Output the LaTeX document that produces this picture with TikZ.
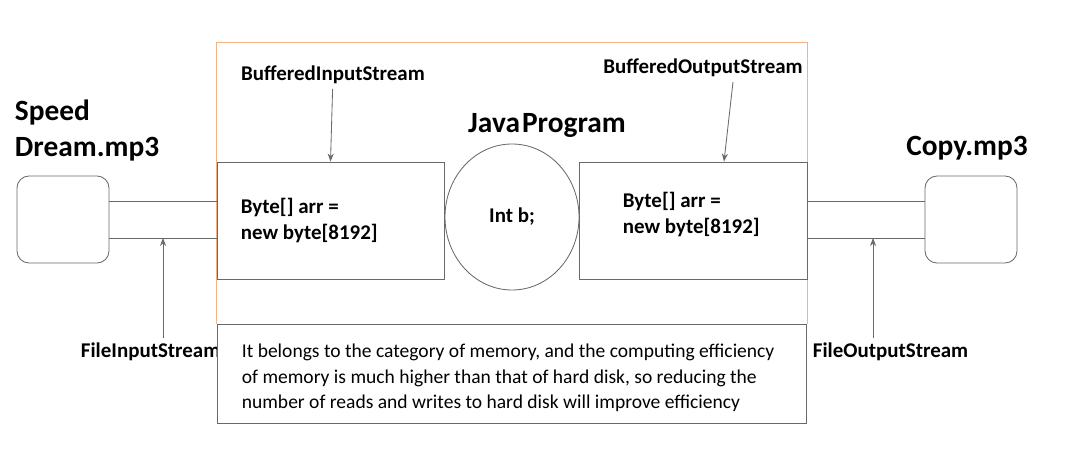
\documentclass[tikz,border=0pt]{standalone}
\usepackage{fontspec}
\setmainfont{Carlito}
\usepackage{xcolor}
\usetikzlibrary{shapes.geometric, positioning, arrows.meta, calc}
\definecolor{boxgray}{RGB}{105,105,105}
\definecolor{frameorange}{RGB}{244,177,131}

\begin{document}
\begin{tikzpicture}[>={Stealth[length=2mm, width=1.5mm]},
  line/.style={draw=boxgray, line width=0.6pt},
  filebox/.style={line, rectangle, rounded corners=0.3cm, minimum width=2.3cm, minimum height=2.175cm},
  bufbox/.style={line, rectangle, minimum height=2.925cm},
  lbl/.style={font=\bfseries\fontsize{14.9}{17.8}\selectfont},
  bigtitle/.style={font=\bfseries\fontsize{20.9}{25.6}\selectfont},
  codetxt/.style={lbl, align=left, inner sep=0pt}]

\useasboundingbox (0,0) rectangle (26.8,-11.3);

% Program frame
\draw[frameorange, line width=0.6pt] (5.4,-8.1) |- (20.175,-1.05) -- (20.175,-8.1);

% Files (left and right)
\node (lfile) [filebox] at (1.575,-5.4875) {};
\node (rfile) [filebox] at (24.275,-5.4875) {};
\node (speed) [bigtitle, align=left, anchor=west] at (0.25,-3.275) {Speed\\Dream.mp3};
\node (copy) [bigtitle] at (24.175,-3.7) {Copy.mp3};

% Buffers and program
\node (lbuf) [bufbox, minimum width=5.675cm] at (8.2625,-5.5125) {};
\node (rbuf) [bufbox, minimum width=5.7cm] at (17.325,-5.5125) {};
\node (prog) [line, ellipse, minimum width=3.35cm, minimum height=3.65cm, lbl] at (12.8,-5.425) {Int b;};
\node (ltxt) [codetxt, right=0.6cm of lbuf.west] {Byte[] arr =\\new byte[8192]};
\node (rtxt) [codetxt, right=1.1cm of rbuf.west, yshift=0.15cm] {Byte[] arr =\\new byte[8192]};
\node (java) [bigtitle] at (13.675,-3.125) {Java\kern1.5pt Program};
\node (bis) [lbl] at (8.325,-1.875) {BufferedInputStream};
\node (bos) [lbl] at (17.575,-1.7) {BufferedOutputStream};

% Streams
\node (fis) [lbl, anchor=west] at (1.9,-8.8) {FileInputStream};
\node (fos) [lbl, anchor=west] at (20.2,-8.8) {FileOutputStream};

% Note
\node (note) [line, fill=white, minimum width=14.725cm, minimum height=2.475cm] at (12.7875,-9.3375) {};
\node (notetxt) [below right=0.5125cm and 0.625cm of note.north west, anchor=north west, inner sep=0pt, align=left, font=\fontsize{13.9}{18.1}\selectfont]
  {It belongs to the category of memory, and the computing efficiency\\
   of memory is much higher than that of hard disk, so reducing the\\
   number of reads and writes to hard disk will improve efficiency};

% Pipes
\coordinate (lpt) at ($(lfile.east)+(0,0.4625)$);
\coordinate (lpb) at ($(lfile.east)+(0,-0.4625)$);
\coordinate (rpt) at ($(rfile.west)+(0,0.4625)$);
\coordinate (rpb) at ($(rfile.west)+(0,-0.4625)$);
\draw[line] (lpt) -- (lpt -| lbuf.west);
\draw[line] (lpb) -- (lpb -| lbuf.west);
\draw[line] (rpt) -- (rpt -| rbuf.east);
\draw[line] (rpb) -- (rpb -| rbuf.east);

% Stream arrows
\coordinate (lin) at ($(lpb)!0.5!(lpb -| lbuf.west)$);
\coordinate (rin) at ($(rpb)!0.44!(rpb -| rbuf.east)$);
\draw[->, line] (fis.north -| lin) -- (lin);
\draw[->, line] (fos.north -| rin) -- (rin);

% Buffer arrows
\draw[->, line] (bis) -- (lbuf.north);
\draw[->, line] ($(bos.south)+(0.75,0)$) -- ($(rbuf.north)+(0.775,0)$);

\end{tikzpicture}
\end{document}
